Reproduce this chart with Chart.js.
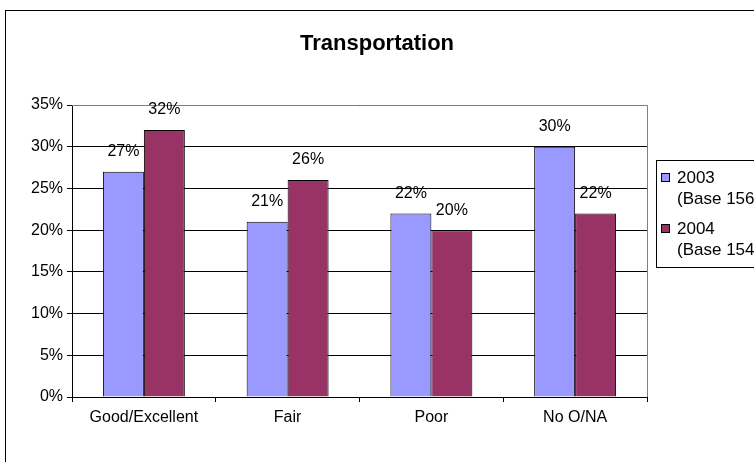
<!DOCTYPE html>
<html>
<head>
<meta charset="utf-8">
<script src="https://cdn.jsdelivr.net/npm/chart.js@4/dist/chart.umd.min.js"></script>
<style>
  html, body { margin: 0; padding: 0; background: #fff; }
  #wrap { width: 754px; height: 462px; position: relative; }
</style>
</head>
<body>
<div id="wrap"><canvas id="chart" width="754" height="462"></canvas></div>
<script>
var categories = ['Good/Excellent', 'Fair', 'Poor', 'No O/NA'];
var values2003 = [27, 21, 22, 30];
var values2004 = [32, 26, 20, 22];
var seriesNames = ['2003', '2004'];
var seriesBases = ['(Base 156)', '(Base 154)'];
var seriesColors = ['#9999FF', '#993366'];
var chartTitle = 'Transportation';

var FONT = 'Arial, "Liberation Sans", sans-serif';

// frame, title, legend, value labels
var extras = {
    id: 'extras',
    afterDraw: function(chart){
        var ctx = chart.ctx;
        var area = chart.chartArea;
        ctx.save();

        // outer frame
        ctx.strokeStyle = '#000';
        ctx.lineWidth = 1;
        ctx.strokeRect(5.5, 10.5, 900, 600);

        // plot top/right border
        ctx.strokeStyle = '#808080';
        ctx.beginPath();
        ctx.moveTo(area.left, area.top + 0.5);
        ctx.lineTo(area.right + 0.5, area.top + 0.5);
        ctx.lineTo(area.right + 0.5, area.bottom);
        ctx.stroke();

        // title
        ctx.fillStyle = '#000';
        ctx.font = 'bold 22px ' + FONT;
        ctx.textAlign = 'center';
        ctx.textBaseline = 'middle';
        ctx.fillText(chartTitle, 377, 44);

        // value labels
        ctx.font = '16px ' + FONT;
        chart.data.datasets.forEach(function(ds, i){
            chart.getDatasetMeta(i).data.forEach(function(bar, j){
                ctx.fillText(ds.data[j] + '%', bar.x, bar.y - 20);
            });
        });

        // legend
        ctx.strokeStyle = '#000';
        ctx.strokeRect(656.5, 160.5, 200, 107);
        ctx.textAlign = 'left';
        ctx.font = '17px ' + FONT;
        var rows = [178, 229];
        seriesNames.forEach(function(name, i){
            var y = rows[i];
            ctx.fillStyle = seriesColors[i];
            ctx.fillRect(661, y - 4, 8, 8);
            ctx.strokeRect(661.5, y - 4.5, 8, 8);
            ctx.fillStyle = '#000';
            ctx.fillText(name, 677, y);
            ctx.fillText(seriesBases[i], 677, y + 21);
        });
        ctx.restore();
    }
};

new Chart(document.getElementById('chart'), {
    type: 'bar',
    data: {
        labels: categories,
        datasets: [
            {
                label: seriesNames[0],
                data: values2003,
                backgroundColor: seriesColors[0],
                borderColor: '#000',
                borderWidth: 1
            },
            {
                label: seriesNames[1],
                data: values2004,
                backgroundColor: seriesColors[1],
                borderColor: '#000',
                borderWidth: 1
            }
        ]
    },
    options: {
        responsive: false,
        animation: false,
        events: [],
        layout: { padding: { left: 0, right: 107, top: 105, bottom: 25 } },
        datasets: { bar: { categoryPercentage: 0.57, barPercentage: 1.0 } },
        plugins: {
            legend: { display: false },
            title: { display: false },
            tooltip: { enabled: false }
        },
        scales: {
            x: {
                afterFit: function(scale){ scale.height = 40; },
                grid: {
                    offset: true,
                    drawOnChartArea: false,
                    drawTicks: true,
                    tickLength: 5,
                    color: '#000'
                },
                border: { color: '#000' },
                ticks: {
                    color: '#000',
                    font: { family: FONT, size: 16 },
                    padding: 6
                }
            },
            y: {
                min: 0,
                max: 35,
                afterFit: function(scale){ scale.width = 72; },
                grid: {
                    color: '#000',
                    drawTicks: true,
                    tickLength: 5
                },
                border: { color: '#000' },
                ticks: {
                    stepSize: 5,
                    color: '#000',
                    padding: 4,
                    font: { family: FONT, size: 16 },
                    callback: function(v){ return v + '%'; }
                }
            }
        }
    },
    plugins: [extras]
});
</script>
</body>
</html>
